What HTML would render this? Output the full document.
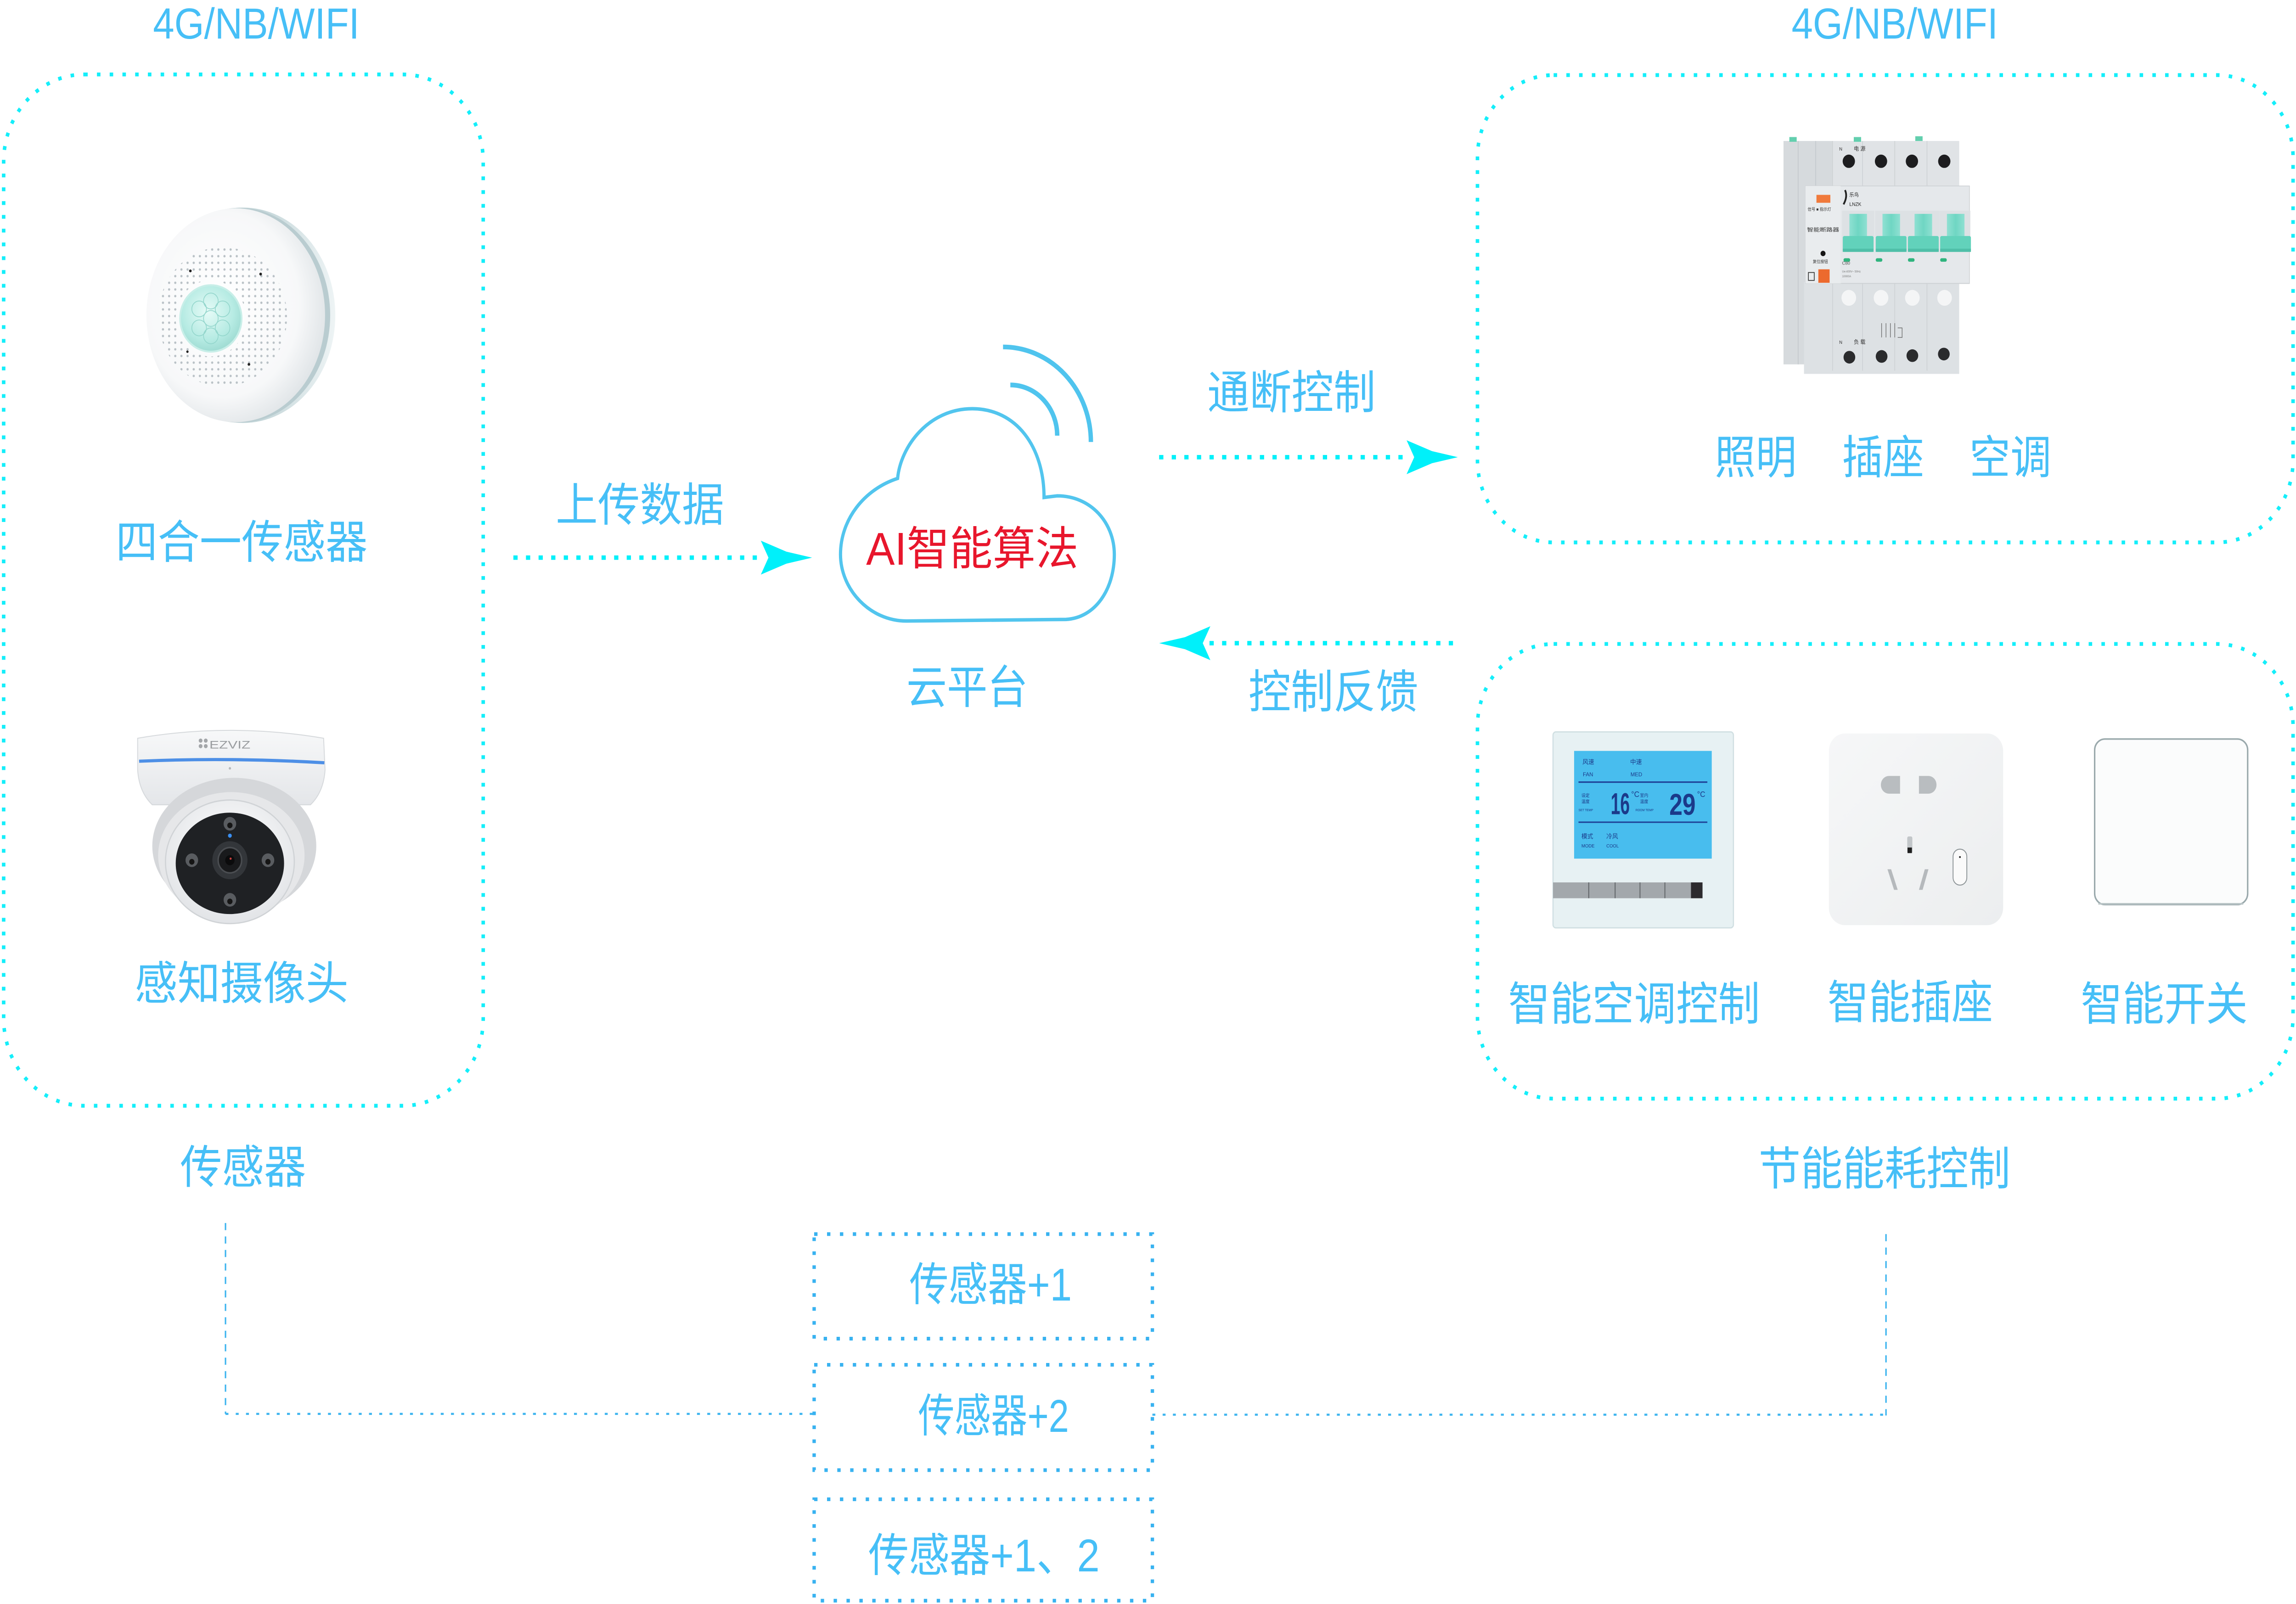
<!DOCTYPE html>
<html><head><meta charset="utf-8">
<style>
html,body{margin:0;padding:0;background:#fff;width:100%;height:100%;overflow:hidden;}
svg{display:block;width:100vw;height:100vh;}
text{font-family:"Liberation Sans","Noto Sans CJK SC",sans-serif;}
</style></head><body>
<svg viewBox="0 0 1568 1012.5" preserveAspectRatio="none" xmlns="http://www.w3.org/2000/svg">
<defs>
  <radialGradient id="discG" cx="0.42" cy="0.45" r="0.62">
    <stop offset="0" stop-color="#ffffff"/>
    <stop offset="0.7" stop-color="#f7f8f9"/>
    <stop offset="1" stop-color="#dde2e5"/>
  </radialGradient>
  <linearGradient id="rimG" x1="0" x2="1" y1="0" y2="0">
    <stop offset="0" stop-color="#e8f0f1"/>
    <stop offset="0.6" stop-color="#c4d6d9"/>
    <stop offset="1" stop-color="#eef4f5"/>
  </linearGradient>
  <radialGradient id="lensG" cx="0.45" cy="0.4" r="0.6">
    <stop offset="0" stop-color="#e6fbf7"/>
    <stop offset="0.7" stop-color="#b6ebe3"/>
    <stop offset="1" stop-color="#9fdcd3"/>
  </radialGradient>
  <pattern id="holes" width="4.2" height="4.2" patternUnits="userSpaceOnUse">
    <circle cx="2.1" cy="2.1" r="0.75" fill="#b9c1c6"/>
  </pattern>
  <linearGradient id="camG" x1="0" x2="0" y1="0" y2="1">
    <stop offset="0" stop-color="#f7f8f9"/>
    <stop offset="1" stop-color="#e4e6e9"/>
  </linearGradient>
  <radialGradient id="ballG" cx="0.5" cy="0.4" r="0.6">
    <stop offset="0" stop-color="#ffffff"/>
    <stop offset="1" stop-color="#e2e4e7"/>
  </radialGradient>
  <linearGradient id="sockG" x1="0" x2="1" y1="0" y2="1">
    <stop offset="0" stop-color="#f6f7f8"/>
    <stop offset="1" stop-color="#eceeef"/>
  </linearGradient>
  <linearGradient id="tealG" x1="0" x2="1">
    <stop offset="0" stop-color="#8fe0d2"/>
    <stop offset="0.5" stop-color="#6fd6c3"/>
    <stop offset="1" stop-color="#8fe0d2"/>
  </linearGradient>
</defs>

<!-- ===== Dotted rounded boxes (cyan) ===== -->
<g fill="none" stroke="#14eefa" stroke-width="2.4" stroke-dasharray="2.4 6.3">
  <rect x="2.5" y="47" width="327.5" height="651" rx="55"/>
  <rect x="1009" y="47.4" width="557" height="295" rx="52"/>
  <rect x="1009" y="406.5" width="557" height="287" rx="52"/>
</g>

<!-- ===== Top labels ===== -->
<g fill="#46bff7">
  <text x="175" y="24.4" font-size="27.5" text-anchor="middle" textLength="141" lengthAdjust="spacingAndGlyphs">4G/NB/WIFI</text>
  <text x="1294" y="24.3" font-size="27.5" text-anchor="middle" textLength="141" lengthAdjust="spacingAndGlyphs">4G/NB/WIFI</text>
</g>

<!-- ===== Four-in-one sensor ===== -->
<g>
  <ellipse cx="166" cy="199" rx="63" ry="68" fill="url(#rimG)"/>
  <ellipse cx="163.5" cy="199" rx="62" ry="67.8" fill="#b9ccd0"/>
  <ellipse cx="161" cy="199" rx="61" ry="67.5" fill="url(#discG)"/>
  <path fill-rule="evenodd" fill="url(#holes)" d="M152 156 a44 44 0 1 0 0.01 0 Z M144 177 a24 24 0 1 1 -0.01 0 Z"/>
  <circle cx="130" cy="171" r="0.9" fill="#222"/>
  <circle cx="178" cy="173" r="0.9" fill="#222"/>
  <circle cx="170" cy="230" r="0.9" fill="#222"/>
  <circle cx="128" cy="222" r="0.8" fill="#222"/>
  <circle cx="144" cy="201" r="21" fill="url(#lensG)" stroke="#c8eee8" stroke-width="1.2"/>
  <g fill="none" stroke="#93d6cc" stroke-width="0.5">
    <circle cx="144" cy="201" r="5"/>
    <circle cx="136" cy="195" r="5"/>
    <circle cx="152" cy="195" r="5"/>
    <circle cx="136" cy="207" r="5"/>
    <circle cx="152" cy="207" r="5"/>
    <circle cx="144" cy="190" r="5"/>
    <circle cx="144" cy="212" r="5"/>
  </g>
</g>
<text x="165" y="352.4" font-size="29" text-anchor="middle" textLength="172" lengthAdjust="spacingAndGlyphs" fill="#46bff7">四合一传感器</text>

<!-- ===== Camera ===== -->
<g>
  <path d="M94 466 Q157 456 221 466 L222 486 Q221 500 212 508 L104 508 Q95 500 94 486 Z" fill="url(#camG)" stroke="#d6d9dc" stroke-width="0.6"/>
  <path d="M95 480.5 Q157 478 221.5 481.5" stroke="#4d8fe6" stroke-width="2" fill="none"/>
  <ellipse cx="160" cy="534" rx="56" ry="43" fill="#d5d7da"/>
  <ellipse cx="158" cy="540" rx="50" ry="40" fill="#e6e7e9"/>
  <ellipse cx="157" cy="544" rx="44" ry="39" fill="url(#ballG)" stroke="#d0d3d6" stroke-width="0.8"/>
  <ellipse cx="157" cy="545" rx="37" ry="32" fill="#1f2124"/>
  <circle cx="157" cy="543" r="12" fill="#33363a"/>
  <circle cx="157" cy="543" r="8" fill="#191a1c" stroke="#4a4d51" stroke-width="1"/>
  <circle cx="157" cy="543" r="3.2" fill="#0b0b0c"/>
  <circle cx="157.5" cy="542" r="0.7" fill="#c84040"/>
  <g fill="#595c60">
    <circle cx="157" cy="520" r="4.3"/>
    <circle cx="131" cy="543" r="4.3"/>
    <circle cx="183" cy="543" r="4.3"/>
    <circle cx="157" cy="568" r="4.3"/>
  </g>
  <g fill="#151515">
    <circle cx="157" cy="521" r="1.8"/>
    <circle cx="131" cy="544" r="1.8"/>
    <circle cx="183" cy="544" r="1.8"/>
    <circle cx="157" cy="569" r="1.8"/>
  </g>
  <circle cx="157" cy="527.5" r="1.3" fill="#3a8ff2"/>
  <g fill="#a3a6a9">
    <circle cx="137" cy="467.5" r="1.3"/><circle cx="140.5" cy="467.5" r="1.3"/>
    <circle cx="137" cy="471" r="1.3"/><circle cx="140.5" cy="471" r="1.3"/>
  </g>
  <text x="143" y="472.5" font-size="7" fill="#9a9da0" textLength="28" lengthAdjust="spacingAndGlyphs">EZVIZ</text>
  <circle cx="157" cy="485" r="0.8" fill="#b5b8bb"/>
</g>
<text x="165" y="630.9" font-size="29" text-anchor="middle" textLength="146" lengthAdjust="spacingAndGlyphs" fill="#46bff7">感知摄像头</text>
<text x="166" y="746.9" font-size="29" text-anchor="middle" textLength="86" lengthAdjust="spacingAndGlyphs" fill="#46bff7">传感器</text>

<!-- ===== Upload arrow ===== -->
<text x="437" y="328.9" font-size="29" text-anchor="middle" textLength="115" lengthAdjust="spacingAndGlyphs" fill="#46bff7">上传数据</text>
<path d="M350.6 352 H522" stroke="#00f0fa" stroke-width="2.8" stroke-dasharray="2.9 5.7" fill="none"/>
<polygon transform="translate(554.6 352)" points="0,0 -17.6,-3.8 -35,-10.7 -29.8,0 -35,10.7 -17.6,3.8" fill="#00f0fa"/>

<!-- ===== Cloud ===== -->
<path d="M619 392 L728 391 C748 390 761 372 761 350 C761 330 745 313 722 313 L713 314 C713 282 694 258 664 258 C634 258 615 282 613 302 C590 309 574 328 574 350 C574 372 594 392 619 392 Z" fill="#fff" stroke="#52c5ee" stroke-width="2.2"/>
<path d="M685 219 A60 60 0 0 1 745 279" stroke="#4fc4ee" stroke-width="3" fill="none"/>
<path d="M690 243 A32 32 0 0 1 722 275" stroke="#4fc4ee" stroke-width="3" fill="none"/>
<text x="664" y="356.4" font-size="29" text-anchor="middle" textLength="145" lengthAdjust="spacingAndGlyphs" fill="#e8162c">AI智能算法</text>
<text x="660.5" y="443.9" font-size="29" text-anchor="middle" textLength="83" lengthAdjust="spacingAndGlyphs" fill="#46bff7">云平台</text>

<!-- ===== Control arrows ===== -->
<text x="882" y="257.9" font-size="29" text-anchor="middle" textLength="115" lengthAdjust="spacingAndGlyphs" fill="#46bff7">通断控制</text>
<path d="M791.6 288.6 H963" stroke="#00f0fa" stroke-width="2.8" stroke-dasharray="2.9 5.7" fill="none"/>
<polygon transform="translate(995.6 288.6)" points="0,0 -17.6,-3.8 -35,-10.7 -29.8,0 -35,10.7 -17.6,3.8" fill="#00f0fa"/>

<path d="M826 406 H996" stroke="#00f0fa" stroke-width="2.8" stroke-dasharray="2.9 5.7" fill="none"/>
<polygon transform="translate(791.6 406) scale(-1 1)" points="0,0 -17.6,-3.8 -35,-10.7 -29.8,0 -35,10.7 -17.6,3.8" fill="#00f0fa"/>
<text x="910.6" y="446.9" font-size="29" text-anchor="middle" textLength="116" lengthAdjust="spacingAndGlyphs" fill="#46bff7">控制反馈</text>

<!-- ===== Breaker ===== -->
<g>
  <rect x="1218" y="89" width="34" height="141" fill="#d6dadd"/>
  <path d="M1228 89 V230 M1240 89 V230" stroke="#c3c8cc" stroke-width="0.5"/>
  <rect x="1222" y="86.5" width="5" height="3" fill="#63cfae"/>
  <rect x="1251.5" y="89" width="86.5" height="30" fill="#e0e3e6"/>
  <rect x="1266" y="86.5" width="5" height="3" fill="#63cfae"/>
  <rect x="1308" y="86" width="5" height="3" fill="#63cfae"/>
  <path d="M1251.5 89 V119 M1272 89 V119 M1294 89 V119 M1316 89 V119" stroke="#cdd1d4" stroke-width="0.5"/>
  <g fill="#1d1d1f">
    <circle cx="1262.6" cy="101.8" r="4.2"/><circle cx="1284.6" cy="101.8" r="4.2"/>
    <circle cx="1305.7" cy="101.8" r="4.2"/><circle cx="1327.8" cy="101.8" r="4.2"/>
  </g>
  <text x="1256" y="95" font-size="3" fill="#333">N</text>
  <text x="1266" y="95" font-size="3.5" fill="#333">电 源</text>
  <rect x="1232" y="178" width="106" height="58" fill="#dde1e4"/>
  <path d="M1251.5 178 V234 M1272 178 V234 M1294 178 V234 M1316 178 V234" stroke="#cdd1d4" stroke-width="0.5"/>
  <g fill="#f4f5f6">
    <circle cx="1262.6" cy="188" r="5"/><circle cx="1284.6" cy="188" r="5"/>
    <circle cx="1306" cy="188" r="5"/><circle cx="1328" cy="188" r="5"/>
  </g>
  <g fill="#2a2b2d">
    <circle cx="1263" cy="225.5" r="4"/><circle cx="1285" cy="225" r="4"/>
    <circle cx="1306" cy="224.5" r="4"/><circle cx="1327.5" cy="223.5" r="4"/>
  </g>
  <text x="1256" y="217" font-size="3" fill="#333">N</text>
  <text x="1266" y="217" font-size="3.5" fill="#333">负 载</text>
  <path d="M1285 204 v9 M1288 204 v9 M1291 204 v9 M1294 204 v9 M1296 207 h3 v6 h-3" stroke="#666" stroke-width="0.4" fill="none"/>
  <rect x="1233" y="117.4" width="112" height="61.5" fill="#e5e8eb" stroke="#cfd3d6" stroke-width="0.5"/>
  <rect x="1233" y="117.4" width="24" height="61.5" fill="#e9ecee"/>
  <rect x="1240.5" y="123" width="9.5" height="5" fill="#f07a3c"/>
  <text x="1234.5" y="133" font-size="2.6" fill="#333">信号 ■ 指示灯</text>
  <text x="1234" y="146" font-size="3.2" fill="#333" textLength="22" lengthAdjust="spacingAndGlyphs">智能断路器</text>
  <circle cx="1245" cy="160" r="1.7" fill="#151515"/>
  <text x="1238" y="166" font-size="2.6" fill="#333">复位按钮</text>
  <rect x="1241.8" y="170" width="7.7" height="8.5" fill="#ec6a2e"/>
  <rect x="1235" y="172" width="4" height="5" fill="none" stroke="#333" stroke-width="0.5"/>
  <path d="M1260 120 q2 4 -1 9" stroke="#222" stroke-width="1.2" fill="none"/>
  <text x="1263" y="124" font-size="3.2" fill="#222">乐鸟</text>
  <text x="1263" y="130" font-size="3.2" fill="#222">LNZK</text>
  <g>
    <rect x="1258" y="133" width="22" height="26" fill="#dde1e4"/>
    <rect x="1280.6" y="133" width="22" height="26" fill="#dde1e4"/>
    <rect x="1302.5" y="133" width="22" height="26" fill="#dde1e4"/>
    <rect x="1324.6" y="133" width="21" height="26" fill="#dde1e4"/>
    <g fill="url(#tealG)">
      <rect x="1263" y="135" width="12" height="15"/>
      <rect x="1285.6" y="135" width="12" height="15"/>
      <rect x="1307.5" y="135" width="12" height="15"/>
      <rect x="1329.6" y="135" width="12" height="15"/>
    </g>
    <g fill="#62d2bb">
      <rect x="1258.5" y="149" width="21" height="10" rx="1"/>
      <rect x="1281" y="149" width="21" height="10" rx="1"/>
      <rect x="1303" y="149" width="21" height="10" rx="1"/>
      <rect x="1325" y="149" width="21" height="10" rx="1"/>
    </g>
    <g fill="#4fbfa8">
      <rect x="1258.5" y="157" width="21" height="2"/>
      <rect x="1281" y="157" width="21" height="2"/>
      <rect x="1303" y="157" width="21" height="2"/>
      <rect x="1325" y="157" width="21" height="2"/>
    </g>
  </g>
  <g fill="#2fb47e">
    <rect x="1259" y="163" width="4.5" height="2.2" rx="1"/>
    <rect x="1281" y="163" width="4.5" height="2.2" rx="1"/>
    <rect x="1303" y="163" width="4.5" height="2.2" rx="1"/>
    <rect x="1325" y="163" width="4.5" height="2.2" rx="1"/>
  </g>
  <text x="1258" y="167" font-size="3" fill="#555">C80</text>
  <text x="1258" y="172" font-size="1.8" fill="#777">Ue:400V~ 50Hz</text>
  <text x="1258" y="175" font-size="1.8" fill="#777">10000A</text>
  <path d="M1258 178.9 H1345" stroke="#cdd1d4" stroke-width="0.6"/>
</g>
<g fill="#46bff7" font-size="29">
  <text x="1199" y="298.9" text-anchor="middle" textLength="56" lengthAdjust="spacingAndGlyphs">照明</text>
  <text x="1286" y="298.9" text-anchor="middle" textLength="56" lengthAdjust="spacingAndGlyphs">插座</text>
  <text x="1373" y="298.9" text-anchor="middle" textLength="56" lengthAdjust="spacingAndGlyphs">空调</text>
</g>

<!-- ===== Thermostat ===== -->
<g>
  <rect x="1060.6" y="462" width="123.2" height="123.7" rx="2" fill="#e7f1f3" stroke="#d0dfe2" stroke-width="0.8"/>
  <rect x="1075" y="474" width="94" height="68" fill="#48bdee"/>
  <path d="M1078 493.7 H1166 M1078 519 H1166" stroke="#1d3f95" stroke-width="0.9"/>
  <g fill="#1b3a8a">
    <text x="1080.7" y="482.3" font-size="4">风速</text>
    <text x="1081" y="490" font-size="3.6">FAN</text>
    <text x="1113.3" y="482.3" font-size="4">中速</text>
    <text x="1113.5" y="490" font-size="3.6">MED</text>
    <text x="1080" y="503" font-size="2.8">设定</text>
    <text x="1080" y="507" font-size="2.8">温度</text>
    <text x="1078" y="512" font-size="2">SET TEMP</text>
    <text x="1120" y="503" font-size="2.8">室内</text>
    <text x="1120" y="507" font-size="2.8">温度</text>
    <text x="1117" y="512" font-size="2">ROOM TEMP</text>
    <text x="1100" y="514" font-size="19" font-weight="bold" textLength="13" lengthAdjust="spacingAndGlyphs">16</text>
    <text x="1114" y="503" font-size="5">°C</text>
    <text x="1140" y="514.4" font-size="19" font-weight="bold" textLength="18" lengthAdjust="spacingAndGlyphs">29</text>
    <text x="1159" y="503" font-size="5">°C</text>
    <text x="1080" y="529.3" font-size="4">模式</text>
    <text x="1080" y="535" font-size="3">MODE</text>
    <text x="1097" y="529.3" font-size="4">冷风</text>
    <text x="1097" y="535" font-size="3">COOL</text>
  </g>
  <rect x="1060.6" y="557" width="94.2" height="10" fill="#a3a8ac"/>
  <path d="M1085 557 V567 M1103 557 V567 M1120 557 V567 M1137 557 V567" stroke="#5e6266" stroke-width="0.6"/>
  <rect x="1154.8" y="557" width="7.9" height="10" fill="#2d2b2e"/>
</g>

<!-- ===== Socket ===== -->
<g>
  <rect x="1249" y="463" width="119" height="121" rx="11" fill="url(#sockG)"/>
  <path d="M1297.6 489.8 L1290 489.8 A5.5 5.6 0 0 0 1290 501 L1297.6 501 Z" fill="#b9bdc0"/>
  <path d="M1310.5 489.8 L1317 489.8 A5.5 5.6 0 0 1 1317 501 L1310.5 501 Z" fill="#b9bdc0"/>
  <rect x="1302.5" y="528" width="3.5" height="10.5" rx="1" fill="#c2c6c9"/>
  <rect x="1302.7" y="535" width="3" height="3.5" fill="#1e1e1e"/>
  <path d="M1289 548.7 L1291.5 548.7 L1296 561.7 L1293.5 561.7 Z" fill="#b5b9bc"/>
  <path d="M1317 548.7 L1314.5 548.7 L1310.5 561.7 L1313 561.7 Z" fill="#b5b9bc"/>
  <rect x="1333.8" y="536" width="9.4" height="22.7" rx="4.7" fill="#fafafa" stroke="#8e9598" stroke-width="0.6"/>
  <circle cx="1338.5" cy="541" r="0.6" fill="#222"/>
</g>

<!-- ===== Switch ===== -->
<g>
  <rect x="1430.5" y="466.5" width="104.5" height="104.5" rx="7" fill="#fbfcfc" stroke="#9aa9ac" stroke-width="1"/>
  <path d="M1433 570.5 H1532" stroke="#b9c4c6" stroke-width="1"/>
</g>

<g fill="#46bff7" font-size="29">
  <text x="1116" y="643.9" text-anchor="middle" textLength="172" lengthAdjust="spacingAndGlyphs">智能空调控制</text>
  <text x="1304.5" y="642.9" text-anchor="middle" textLength="113" lengthAdjust="spacingAndGlyphs">智能插座</text>
  <text x="1478" y="643.9" text-anchor="middle" textLength="114" lengthAdjust="spacingAndGlyphs">智能开关</text>
  <text x="1287" y="747.9" text-anchor="middle" textLength="172" lengthAdjust="spacingAndGlyphs">节能能耗控制</text>
</g>

<!-- ===== Bottom connectors ===== -->
<g fill="none" stroke="#3cb4ef">
  <path d="M154 772 V892.5" stroke-width="1" stroke-dasharray="4.5 4"/>
  <path d="M154 892.5 H556" stroke-width="1.3" stroke-dasharray="2 5"/>
  <path d="M1288 779 V893.5" stroke-width="1" stroke-dasharray="4.5 4"/>
  <path d="M787 893 H1288" stroke-width="1.3" stroke-dasharray="2 5"/>
</g>

<!-- ===== Bottom boxes ===== -->
<g fill="none" stroke="#38b2f0" stroke-width="2.3" stroke-dasharray="2.3 6.5">
  <rect x="556" y="779" width="231" height="66"/>
  <rect x="556" y="861.5" width="231" height="66.5"/>
  <rect x="556" y="946.4" width="231" height="64"/>
</g>
<g fill="#46bff7" font-size="29">
  <text x="676.5" y="820.9" text-anchor="middle" textLength="111" lengthAdjust="spacingAndGlyphs">传感器+1</text>
  <text x="678.5" y="903.9" text-anchor="middle" textLength="103" lengthAdjust="spacingAndGlyphs">传感器+2</text>
  <text x="672" y="991.9" text-anchor="middle" textLength="158" lengthAdjust="spacingAndGlyphs">传感器+1、2</text>
</g>
</svg>
</body></html>
